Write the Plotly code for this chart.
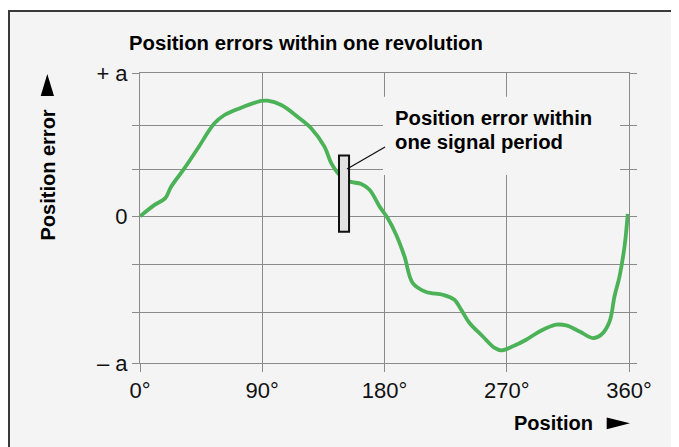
import plotly.graph_objects as go

# ---- data ----
position_deg = [0, 10.7, 18.6, 23.0, 32.8, 42.6, 54.8, 62.2, 74.5, 89.2, 93.9, 104.0, 116.0,
                126.0, 135.8, 140.8, 146.9, 154.2, 162.9, 169.0, 176.4, 182.4, 188.6, 194.7,
                200.8, 210.7, 222.9, 231.5, 236.5, 242.6, 252.4, 261.1, 265.9, 274.5, 284.3,
                294.1, 306.4, 313.8, 323.6, 333.4, 339.5, 345.7, 349.3, 353.0, 356.7, 359.1]
position_error = [0.0, 0.080, 0.127, 0.208, 0.336, 0.475, 0.649, 0.707, 0.758, 0.805, 0.807,
                  0.777, 0.695, 0.615, 0.486, 0.371, 0.289, 0.243, 0.226, 0.185, 0.068, -0.013,
                  -0.129, -0.280, -0.466, -0.528, -0.547, -0.582, -0.652, -0.744, -0.838,
                  -0.918, -0.935, -0.907, -0.861, -0.803, -0.756, -0.761, -0.803, -0.849,
                  -0.826, -0.733, -0.559, -0.420, -0.210, 0.017]

x_tick_vals = [0, 90, 180, 270, 360]
x_tick_text = ["0°", "90°", "180°", "270°", "360°"]
y_tick_vals = [-1.023, -0.669, -0.334, 0, 0.328, 0.632, 1.0]
y_tick_text = ["– a", "", "", "0", "", "", "+ a"]

title_text = "Position errors within one revolution"
y_label = "Position error"
x_label = "Position"
note_line1 = "Position error within"
note_line2 = "one signal period"

# ---- layout geometry (page body adds an 8 px offset) ----
OFF = 8
W, H = 679, 447
L, T = 132, 65
PW, PH = 489, 290
R = W - L - PW
B = H - T - PH


def px(x):
    """screen x -> paper x"""
    return (x - OFF - L) / PW


def py(y):
    """screen y -> paper y"""
    return (T + PH - (y - OFF)) / PH


GRID = "#8a8a8a"
GREEN = "#4cb257"
FONT = "Liberation Sans, Arial, sans-serif"

fig = go.Figure()
fig.add_trace(go.Scatter(
    x=position_deg, y=position_error, mode="lines",
    line=dict(color=GREEN, width=3.8, shape="spline", smoothing=1.0),
    hoverinfo="skip", showlegend=False,
))

shapes = [
    # outer frame
    dict(type="rect", xref="paper", yref="paper", x0=px(9), x1=px(700), y0=py(480), y1=py(11),
         line=dict(color="#3a3a3a", width=2), fillcolor="#f4f4f4", layer="below"),
    # mask behind the note text
    dict(type="rect", xref="x", yref="y", x0=178.9, x1=353.4, y0=0.288, y1=0.835,
         line=dict(width=0), fillcolor="#f4f4f4", layer="above"),
    # signal period box
    dict(type="rect", xref="x", yref="y", x0=146.5, x1=153.9, y0=-0.107, y1=0.424,
         line=dict(color="#111111", width=2), fillcolor="#e2e2e2", layer="above"),
    # leader line
    dict(type="line", xref="x", yref="y", x0=152.4, y0=0.330, x1=180.4, y1=0.484,
         line=dict(color="#111111", width=1.3), layer="above"),
    # up arrow (y label)
    dict(type="path", xref="paper", yref="paper",
         path=f"M {px(40.7)} {py(96)} L {px(54)} {py(96)} L {px(47.3)} {py(74)} Z",
         fillcolor="#000000", line=dict(width=0)),
    # right arrow (x label)
    dict(type="path", xref="paper", yref="paper",
         path=f"M {px(606.7)} {py(417.5)} L {px(606.7)} {py(429.2)} L {px(630)} {py(423.3)} Z",
         fillcolor="#000000", line=dict(width=0)),
]

annotations = [
    dict(text=f"<b>{title_text}</b>", xref="paper", yref="paper", x=px(127), y=py(43.5),
         xanchor="left", yanchor="middle", showarrow=False,
         font=dict(family=FONT, size=20.3, color="#000000")),
    dict(text=f"<b>{y_label}</b>", xref="paper", yref="paper", x=px(47.5), y=py(175),
         xanchor="center", yanchor="middle", textangle=-90, showarrow=False,
         font=dict(family=FONT, size=20, color="#000000")),
    dict(text=f"<b>{x_label}</b>", xref="paper", yref="paper", x=px(553), y=py(423),
         xanchor="center", yanchor="middle", showarrow=False,
         font=dict(family=FONT, size=20, color="#000000")),
    dict(text=f"<b>{note_line1}</b>", xref="paper", yref="paper", x=px(393), y=py(118),
         xanchor="left", yanchor="middle", showarrow=False,
         font=dict(family=FONT, size=20.3, color="#000000")),
    dict(text=f"<b>{note_line2}</b>", xref="paper", yref="paper", x=px(393), y=py(142),
         xanchor="left", yanchor="middle", showarrow=False,
         font=dict(family=FONT, size=20.3, color="#000000")),
]

fig.update_layout(
    width=W, height=H,
    margin=dict(l=L, r=R, t=T, b=B, pad=0),
    paper_bgcolor="#ffffff", plot_bgcolor="#f4f4f4",
    shapes=shapes, annotations=annotations,
    xaxis=dict(range=[0, 360], tickvals=x_tick_vals, ticktext=x_tick_text,
               showgrid=True, gridcolor=GRID, gridwidth=1, zeroline=False,
               showline=True, linecolor=GRID, linewidth=1, mirror=True,
               ticks="outside", ticklen=8, tickcolor=GRID, tickwidth=1,
               ticklabelstandoff=0,
               tickfont=dict(family=FONT, size=22, color="#111111"), fixedrange=True),
    yaxis=dict(range=[-1.023, 1.0], tickvals=y_tick_vals, ticktext=y_tick_text,
               showgrid=True, gridcolor=GRID, gridwidth=1, zeroline=False,
               showline=True, linecolor=GRID, linewidth=1, mirror="ticks",
               ticks="outside", ticklen=7, tickcolor=GRID, tickwidth=1,
               ticklabelstandoff=0,
               tickfont=dict(family=FONT, size=22, color="#111111"), fixedrange=True),
    showlegend=False,
)

fig.write_html("out.html")
